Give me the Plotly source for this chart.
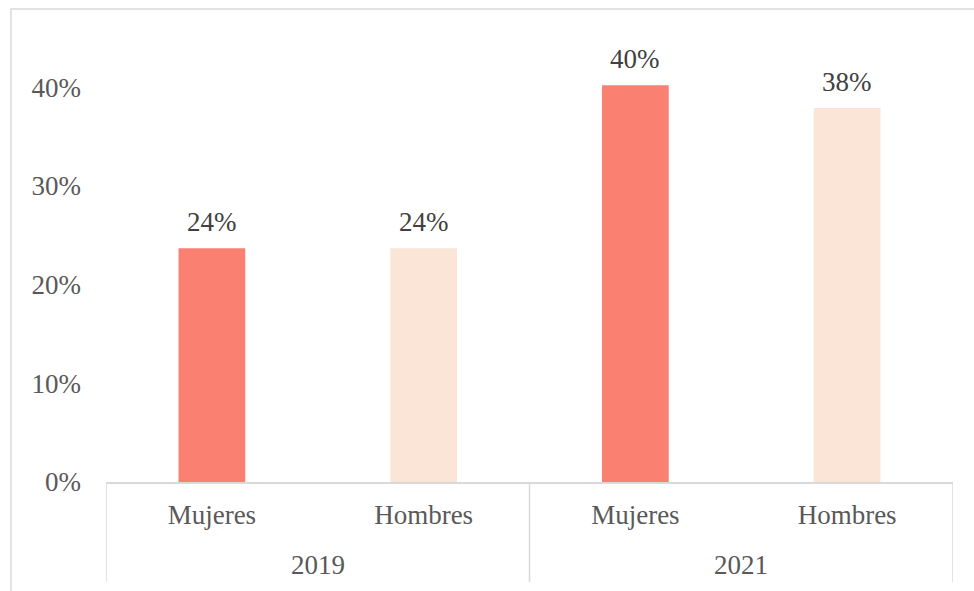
import plotly.graph_objects as go

years = ["2019", "2019", "2021", "2021"]
sexes = ["Mujeres", "Hombres", "Mujeres", "Hombres"]
values = [0.237, 0.237, 0.402, 0.379]
labels = ["24%", "24%", "40%", "38%"]
colors = ["#FA8072", "#FAE5D6", "#FA8072", "#FAE5D6"]
y_ticks = [0, 0.1, 0.2, 0.3, 0.4]
y_ticktext = ["0%", "10%", "20%", "30%", "40%"]

FONT = "Liberation Serif"
GRID = "#D9D9D9"

xpos = list(range(len(sexes)))

fig = go.Figure(go.Bar(
    x=xpos,
    y=values,
    marker=dict(color=colors, line=dict(width=0)),
    width=0.315,
    hoverinfo="skip",
))

# data labels above bars
annotations = []
for xi, v, lab in zip(xpos, values, labels):
    annotations.append(dict(
        x=xi, y=v, xref="x", yref="y", text=lab, showarrow=False,
        yanchor="bottom", yshift=9,
        font=dict(family=FONT, size=27, color="#404040"),
    ))

# year group labels and dividers
groups = []
for i, yr in enumerate(years):
    if not groups or groups[-1][0] != yr:
        groups.append([yr, [i]])
    else:
        groups[-1][1].append(i)

shapes = []
for yr, idx in groups:
    annotations.append(dict(
        x=sum(idx) / len(idx), y=-0.187, xref="x", yref="paper", text=yr,
        showarrow=False, yanchor="middle",
        font=dict(family=FONT, size=27, color="#595959"),
    ))
bounds = [groups[0][1][0] - 0.5] + [idx[-1] + 0.5 for _, idx in groups]
for b in bounds:
    shapes.append(dict(
        type="line", xref="x", yref="paper", x0=b, x1=b, y0=0, y1=-0.225,
        line=dict(color=GRID, width=1.5),
    ))

# chart frame
shapes.append(dict(
    type="rect", xref="paper", yref="paper",
    x0=-0.1122, x1=1.3, y0=-0.5, y1=1.0653,
    line=dict(color=GRID, width=1.5),
    fillcolor="rgba(0,0,0,0)", layer="below",
))

fig.update_layout(
    width=974, height=591,
    margin=dict(l=106, r=21, t=38, b=109, autoexpand=False),
    paper_bgcolor="white", plot_bgcolor="white",
    showlegend=False,
    font=dict(family=FONT, size=27, color="#595959"),
    xaxis=dict(
        range=[-0.5, len(sexes) - 0.5],
        tickvals=xpos, ticktext=sexes,
        showline=True, linecolor=GRID, linewidth=1.5,
        showgrid=False, zeroline=False, ticks="",
        ticklabelstandoff=8, automargin=False,
        tickfont=dict(family=FONT, size=27, color="#595959"),
    ),
    yaxis=dict(
        range=[0, 0.45],
        tickvals=y_ticks, ticktext=y_ticktext,
        showgrid=False, zeroline=False, showline=False,
        ticks="", ticklabelstandoff=24, automargin=False,
        tickfont=dict(family=FONT, size=27, color="#595959"),
    ),
    annotations=annotations,
    shapes=shapes,
)

fig.write_html("out.html", config={"displayModeBar": False},
               post_script="document.body.style.margin='0';")
